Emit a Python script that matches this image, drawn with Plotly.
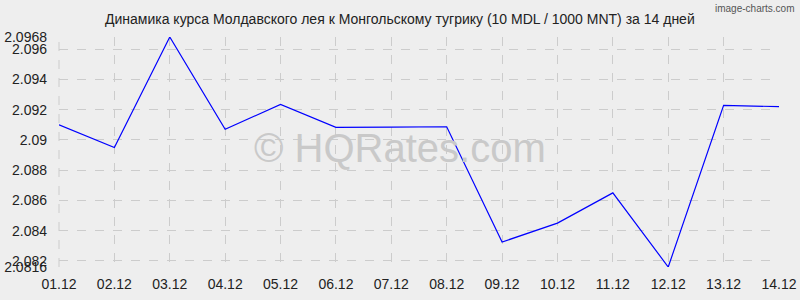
import plotly.graph_objects as go

dates = ["01.12", "02.12", "03.12", "04.12", "05.12", "06.12", "07.12",
         "08.12", "09.12", "10.12", "11.12", "12.12", "13.12", "14.12"]
rates = [2.0910, 2.0895, 2.0968, 2.0907, 2.09235, 2.09083, 2.09085,
         2.09087, 2.08325, 2.0845, 2.0865, 2.0816, 2.09228, 2.0922]
y_ticks = [2.0816, 2.082, 2.084, 2.086, 2.088, 2.09, 2.092, 2.094, 2.096, 2.0968]
y_tick_text = ["2.0816", "2.082", "2.084", "2.086", "2.088", "2.09", "2.092", "2.094", "2.096", "2.0968"]

title = "Динамика курса Молдавского лея к Монгольскому тугрику (10 MDL / 1000 MNT) за 14 дней"

fig = go.Figure()
fig.add_trace(go.Scatter(x=list(range(len(dates))), y=rates, mode="lines",
                         line=dict(color="#0000ff", width=1.2), hoverinfo="skip"))

bg = "#eeeeee"
L, R, T, B = 59, 21, 37, 33
pw = 800 - L - R
ph = 300 - T - B
fig.update_layout(
    width=800, height=300,
    margin=dict(l=L, r=R, t=T, b=B),
    paper_bgcolor=bg, plot_bgcolor=bg,
    showlegend=False,
    font=dict(family="Liberation Sans, Arial, sans-serif", size=14, color="#222222"),
    xaxis=dict(range=[0, len(dates) - 1], tickvals=list(range(len(dates))), ticktext=dates,
               showgrid=True, gridcolor="#cccccc", griddash="dash", gridwidth=1,
               zeroline=False, showline=False, ticks="", ticklabelstandoff=7,
               automargin=False, tickfont=dict(size=14, color="#222222")),
    yaxis=dict(range=[min(y_ticks), max(y_ticks)], tickvals=y_ticks, ticktext=y_tick_text,
               showgrid=True, gridcolor="#cccccc", griddash="dash", gridwidth=1,
               zeroline=False, showline=False, ticks="", ticklabelstandoff=11,
               automargin=False, tickfont=dict(size=14, color="#222222")),
    annotations=[
        dict(text=title, xref="paper", yref="paper", x=(400 - L) / pw,
             y=1 + (T - 19) / ph, yanchor="middle", showarrow=False,
             font=dict(size=14, color="#222222")),
        dict(text="image-charts.com", xref="paper", yref="paper", x=(796 - L) / pw,
             y=1 + (T - 8) / ph, xanchor="right", yanchor="middle", showarrow=False,
             font=dict(size=10, color="#555555")),
        dict(text="© HQRates.com", xref="paper", yref="paper", x=(400 - L) / pw,
             y=1 - (148 - T) / ph, yanchor="middle", showarrow=False,
             font=dict(size=40, color="#c9c9c9")),
    ],
)
fig.add_shape(type="line", xref="paper", yref="paper", x0=0, x1=0, y0=0, y1=1,
              line=dict(color="#cccccc", width=1, dash="dash"))
fig.write_html("out.html")
